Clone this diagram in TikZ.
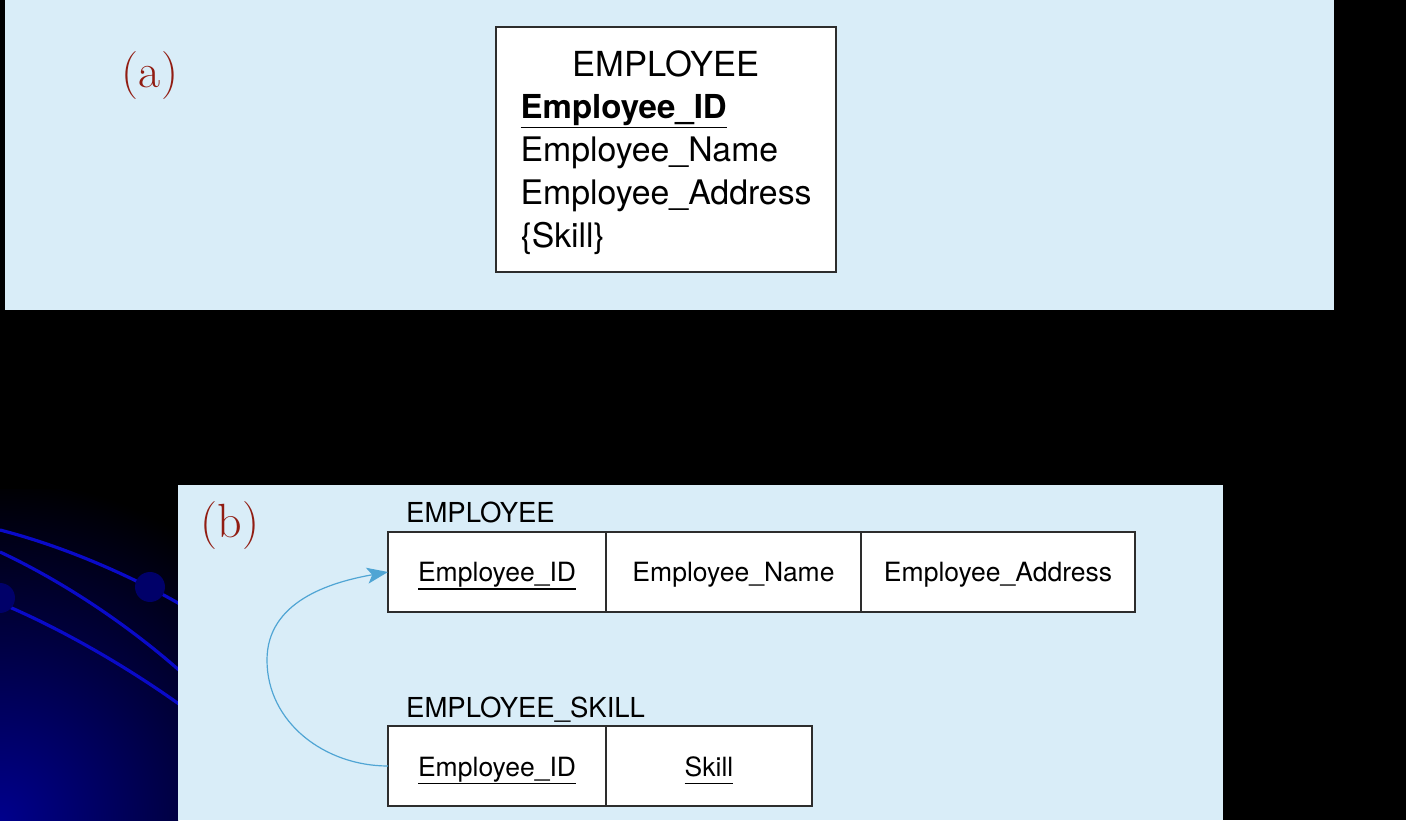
\documentclass[tikz,border=0pt]{standalone}
\usepackage{fontspec}
\setsansfont{TeX Gyre Heros}
\usepackage{tikz}
\usetikzlibrary{positioning,arrows.meta}

\definecolor{panelblue}{RGB}{217,237,248}
\definecolor{labelred}{RGB}{145,28,18}
\definecolor{linkblue}{RGB}{80,165,212}
\definecolor{orbitblue}{RGB}{10,10,200}
\definecolor{bulbblue}{RGB}{0,0,105}
\definecolor{cornerblue}{RGB}{0,0,140}
\definecolor{edgegray}{RGB}{45,45,45}

% underlined key attribute: #1 = depth of the rule, #2 = text
\newcommand{\keyfield}[2]{\setbox0=\hbox{#2}\rlap{\rule[-#1]{\wd0}{1.5pt}}\box0}

\begin{document}
\begin{tikzpicture}[x=1pt,y=1pt]
  \tikzset{panel/.style={fill=panelblue}}
  \tikzset{tag/.style={text=labelred, font=\fontsize{48}{54}\selectfont, inner sep=0pt}}
  \tikzset{entity/.style={draw=edgegray, line width=1.4pt, fill=white, minimum width=340pt, minimum height=245pt, inner sep=0pt}}
  \tikzset{bigattr/.style={font=\sffamily\fontsize{33.8}{40}\selectfont, inner sep=0pt, anchor=base west}}
  \tikzset{cell/.style={draw=edgegray, line width=1.2pt, fill=white, minimum height=80pt, inner sep=0pt, outer sep=0pt, text height=26pt, text depth=6pt, font=\sffamily\fontsize{26.5}{30}\selectfont}}
  \tikzset{relname/.style={font=\sffamily\fontsize{27.5}{32}\selectfont, inner sep=0pt, anchor=base west}}
  \tikzset{fk/.style={draw=linkblue, line width=1.2pt, -{Stealth[length=21pt,width=16pt,inset=5pt]}}}

  % slide background
  \fill[black] (0,0) rectangle (1406,820);
  \begin{scope}
    \clip (0,0) rectangle (178,330);
    \shade[inner color=cornerblue, outer color=black] (0,0) circle (340);
    \draw[orbitblue, line width=3.2pt] (0,290) .. controls (70,272) and (140,240) .. (190,210);
    \draw[orbitblue, line width=3.2pt] (0,268) .. controls (60,240) and (130,195) .. (190,140);
    \draw[orbitblue, line width=3.2pt] (0,217) .. controls (60,192) and (130,152) .. (190,108);
    \fill[bulbblue] (150,233) circle (15);
    \fill[bulbblue] (0,222) circle (15);
  \end{scope}

  \fill[panel] (5,510) rectangle (1334,820);
  \fill[panel] (178,0) rectangle (1223,335);

  % (a) entity with multivalued attribute
  \node[tag] (taga) at (150,744) {(a)};
  \node[entity] (ent) at (666,670.5) {};
  \node[font=\sffamily\fontsize{34.5}{40}\selectfont, inner sep=0pt, anchor=base] (enttitle) at ([yshift=-50pt]ent.north) {EMPLOYEE};
  \node[bigattr, font=\sffamily\bfseries\fontsize{33}{40}\selectfont] (entid) at ([xshift=25pt,yshift=-92pt]ent.north west) {\keyfield{10pt}{Employee\_ID}};
  \node[bigattr] (entname) at ([yshift=-43pt]entid.base west) {Employee\_Name};
  \node[bigattr] (entaddr) at ([yshift=-43pt]entname.base west) {Employee\_Address};
  \node[bigattr] (entskill) at ([yshift=-43pt]entaddr.base west) {\{Skill\}};

  % (b) two relations
  \node[tag] (tagb) at (230,294.5) {(b)};
  \node[cell, minimum width=218pt] (e1) at (497,248) {\keyfield{8pt}{Employee\_ID}};
  \node[cell, minimum width=255pt, right=0pt of e1] (e2) {Employee\_Name};
  \node[cell, minimum width=274pt, right=0pt of e2] (e3) {Employee\_Address};
  \node[relname] (erel) at ([xshift=18pt,yshift=9pt]e1.north west) {EMPLOYEE};

  \node[cell, minimum width=218pt, below=114pt of e1] (s1) {\keyfield{8pt}{Employee\_ID}};
  \node[cell, minimum width=206pt, right=0pt of s1] (s2) {\keyfield{8pt}{Skill}};
  \node[relname] (srel) at ([xshift=18pt,yshift=9pt]s1.north west) {EMPLOYEE\_SKILL};

  \coordinate (bend) at (267,160);
  \draw[fk] (s1.west) to[out=180, in=-90] (bend) to[out=90, in=190] (e1.west);
\end{tikzpicture}
\end{document}
